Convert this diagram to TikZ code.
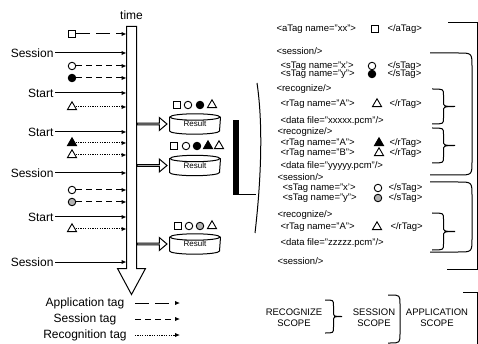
\documentclass[tikz,border=0pt]{standalone}
\usepackage{fontspec}
\setmainfont{Liberation Sans}
\usetikzlibrary{arrows.meta,calc,positioning,shapes.geometric,shapes.arrows}

\tikzset{
  lbl/.style={font=\fontsize{12}{14}\selectfont, inner sep=1pt},
  xml/.style={font=\fontsize{9.5}{10}\selectfont, anchor=west, inner sep=0pt},
  scopelbl/.style={font=\fontsize{9.5}{11}\selectfont, align=center, inner sep=0pt},
  sym/.style={inner sep=0pt, minimum size=7.5pt, line width=0.9pt},
  sq/.style={sym, draw, rectangle},
  circ/.style={sym, draw, circle},
  fcirc/.style={circ, fill=black},
  gcirc/.style={circ, fill=gray!60},
  tri/.style={sym, draw, regular polygon, regular polygon sides=3, minimum size=10.5pt},
  ftri/.style={tri, fill=black},
  tag/.style={line width=1pt, -{Latex[length=5pt,width=4.5pt]}},
  apptag/.style={tag, dash pattern=on 14pt off 6pt},
  sestag/.style={tag, dash pattern=on 6pt off 4pt},
  rectag/.style={tag, dash pattern=on 1.2pt off 1.2pt},
  resarrow/.style={single arrow, draw, fill=white, anchor=tail,
    minimum height=30pt, minimum width=13pt, single arrow head extend=3.5pt,
    single arrow tip angle=80, inner sep=0pt},
  resnode/.style={minimum width=50pt, minimum height=13pt, inner sep=0pt,
    font=\fontsize{8}{9}\selectfont},
  pics/curly/.style n args={2}{code={
    \draw (0,0) .. controls ({#2*0.5},0) .. ({#2*0.5},6)
      -- ({#2*0.5},{#1*0.5-5}) .. controls ({#2*0.5},{#1*0.5}) .. (#2,{#1*0.5})
      .. controls ({#2*0.5},{#1*0.5}) .. ({#2*0.5},{#1*0.5+5})
      -- ({#2*0.5},{#1-6}) .. controls ({#2*0.5},#1) .. (0,#1);
  }},
  pics/squarebr/.style n args={3}{code={
    \draw (0,0) -- ({#2-#3},0) .. controls (#2,0) .. (#2,#3)
      -- (#2,{#1-#3}) .. controls (#2,#1) .. ({#2-#3},#1) -- (0,#1);
  }},
}

\begin{document}
\begin{tikzpicture}[x=1pt,y=-1pt,line width=1pt]
  \useasboundingbox (0,0) rectangle (478,344);

  % time axis
  \node[minimum width=9pt, minimum height=241pt, inner sep=0pt] (timeline) at (131.5,147.5) {};
  \draw[fill=white] (timeline.north west) -- (timeline.south west) -- ++(-9,0)
    -- ($(timeline.south)+(0,26)$) -- ($(timeline.south east)+(9,0)$)
    -- (timeline.south east) -- (timeline.north east) -- cycle;
  \node[lbl, above=5pt of timeline.north] (timelbl) {time};

  % events arriving on the time axis
  \node[sq] (a1) at (72,34) {};
  \draw[apptag] (a1) -- (a1 -| timeline.west);
  \node[lbl, anchor=east] (ses1) at (55,53) {Session};
  \draw[tag] (ses1) -- (ses1 -| timeline.west);
  \node[circ] (s1) at (72,66) {};
  \draw[sestag] (s1) -- (s1 -| timeline.west);
  \node[fcirc] (s2) at (72,78) {};
  \draw[sestag] (s2) -- (s2 -| timeline.west);
  \node[lbl, anchor=east] (st1) at (55,93) {Start};
  \draw[tag] (st1) -- (st1 -| timeline.west);
  \node[tri] (r1) at (72,107) {};
  \draw[rectag] (r1) -- (r1 -| timeline.west);
  \node[lbl, anchor=east] (st2) at (55,132) {Start};
  \draw[tag] (st2) -- (st2 -| timeline.west);
  \node[ftri] (r2) at (72,143) {};
  \draw[rectag] (r2) -- (r2 -| timeline.west);
  \node[tri] (r3) at (72,155) {};
  \draw[rectag] (r3) -- (r3 -| timeline.west);
  \node[lbl, anchor=east] (ses2) at (55,173) {Session};
  \draw[tag] (ses2) -- (ses2 -| timeline.west);
  \node[circ] (s3) at (72,190) {};
  \draw[sestag] (s3) -- (s3 -| timeline.west);
  \node[gcirc] (s4) at (72,202) {};
  \draw[sestag] (s4) -- (s4 -| timeline.west);
  \node[lbl, anchor=east] (st3) at (55,217) {Start};
  \draw[tag] (st3) -- (st3 -| timeline.west);
  \node[tri] (r4) at (72,229) {};
  \draw[rectag] (r4) -- (r4 -| timeline.west);
  \node[lbl, anchor=east] (ses3) at (55,262) {Session};
  \draw[tag] (ses3) -- (ses3 -| timeline.west);

  % recognition results
  \node[resnode] (res1) at (195,124) {Result};
  \node[resnode] (res2) at (195,165.5) {Result};
  \node[resnode] (res3) at (195,244) {Result};
  \foreach \r in {res1,res2,res3} {
    \draw (\r.north west) -- (\r.south west)
      arc[start angle=180, end angle=0, x radius=25, y radius=3.2] -- (\r.north east);
    \draw (\r.north) ellipse[x radius=25, y radius=3.2];
    \node[resarrow] (\r-in) at (timeline.east |- \r) {};
  }
  \foreach \s/\x [count=\i] in {sq/177,circ/188,fcirc/200,tri/212}
    \node[\s] (rs1-\i) at (\x,105) {};
  \foreach \s/\x [count=\i] in {sq/174,circ/186,fcirc/197,ftri/208,tri/219}
    \node[\s] (rs2-\i) at (\x,146) {};
  \foreach \s/\x [count=\i] in {sq/178,circ/189,gcirc/200,tri/212}
    \node[\s] (rs3-\i) at (\x,226) {};

  % document bar
  \fill (233,120) rectangle (239,195);
  \draw (239,195) -- (256,195);
  \draw (257,83) .. controls (264,130) and (260,190) .. (255,233);

  % tagged document
  \node[xml] (atag) at (276,29) {<aTag name="xx">};
  \node[sq] (atag-s) at (375,29) {};
  \node[xml] (atag-e) at (387,29) {</aTag>};
  \node[xml] (sesA) at (276,51) {<session/>};
  \node[xml] (sA1) at (280,66) {<sTag name="x'>};
  \node[circ] (sA1-s) at (372,66) {};
  \node[xml] (sA1-e) at (387,66) {</sTag>};
  \node[xml] (sA2) at (280,74) {<sTag name="y">};
  \node[fcirc] (sA2-s) at (372,74) {};
  \node[xml] (sA2-e) at (387,74) {</sTag>};
  \node[xml] (recA) at (276,89) {<recognize/>};
  \node[xml] (rA1) at (280,104) {<rTag name="A">};
  \node[tri] (rA1-s) at (377,104) {};
  \node[xml] (rA1-e) at (389,104) {</rTag>};
  \node[xml] (dA) at (280,121) {<data file="xxxxx.pcm"/>};
  \node[xml] (recB) at (277,132) {<recognize/>};
  \node[xml] (rB1) at (280,143) {<rTag name="A">};
  \node[ftri] (rB1-s) at (379,143) {};
  \node[xml] (rB1-e) at (389,143) {</rTag>};
  \node[xml] (rB2) at (280,153) {<rTag name="B">};
  \node[tri] (rB2-s) at (379,153) {};
  \node[xml] (rB2-e) at (389,153) {</rTag>};
  \node[xml] (dB) at (280,166) {<data file="yyyyy.pcm"/>};
  \node[xml] (sesB) at (277,177) {<session/>};
  \node[xml] (sB1) at (282,188) {<sTag name="x'>};
  \node[circ] (sB1-s) at (378,188) {};
  \node[xml] (sB1-e) at (388,188) {</sTag>};
  \node[xml] (sB2) at (282,198) {<sTag name="y">};
  \node[gcirc] (sB2-s) at (378,198) {};
  \node[xml] (sB2-e) at (388,198) {</sTag>};
  \node[xml] (recC) at (277,215) {<recognize/>};
  \node[xml] (rC1) at (280,227) {<rTag name="A">};
  \node[tri] (rC1-s) at (377,227) {};
  \node[xml] (rC1-e) at (390,227) {</rTag>};
  \node[xml] (dC) at (280,243) {<data file="zzzzz.pcm"/>};
  \node[xml] (sesC) at (277,261) {<session/>};

  % scopes
  \pic (brA) at (432,89) {curly={35}{23}};
  \pic (brB) at (432,128) {curly={35}{23}};
  \pic (brC) at (432,213) {curly={37}{23}};
  \pic (bsA) at (430,53) {squarebr={122}{42}{14}};
  \pic (bsB) at (430,182) {squarebr={70}{42}{14}};
  \draw (448,23) -- (477.5,23) -- (477.5,269) -- (447,269);

  % legend
  \node[lbl] (lgapp) at (85,303) {Application tag};
  \node[lbl] (lgses) at (85,319) {Session tag};
  \node[lbl] (lgrec) at (85,335) {Recognition tag};
  \coordinate (lgapp1) at (135,303); \coordinate (lgapp2) at (180,303);
  \coordinate (lgses1) at (135,319); \coordinate (lgses2) at (180,319);
  \coordinate (lgrec1) at (135,335); \coordinate (lgrec2) at (180,335);
  \draw[apptag] (lgapp1) -- (lgapp2);
  \draw[sestag] (lgses1) -- (lgses2);
  \draw[rectag] (lgrec1) -- (lgrec2);

  \node[scopelbl] (screc) at (294,318) {RECOGNIZE\\SCOPE};
  \pic (lgbr1) at (325,300) {curly={33}{17}};
  \node[scopelbl] (scses) at (374,318) {SESSION\\SCOPE};
  \pic (lgbr2) at (388,295) {squarebr={48}{12}{10}};
  \node[scopelbl] (scapp) at (437,318) {APPLICATION\\SCOPE};
  \draw (463,292) -- (477.5,292) -- (477.5,345);
\end{tikzpicture}
\end{document}
